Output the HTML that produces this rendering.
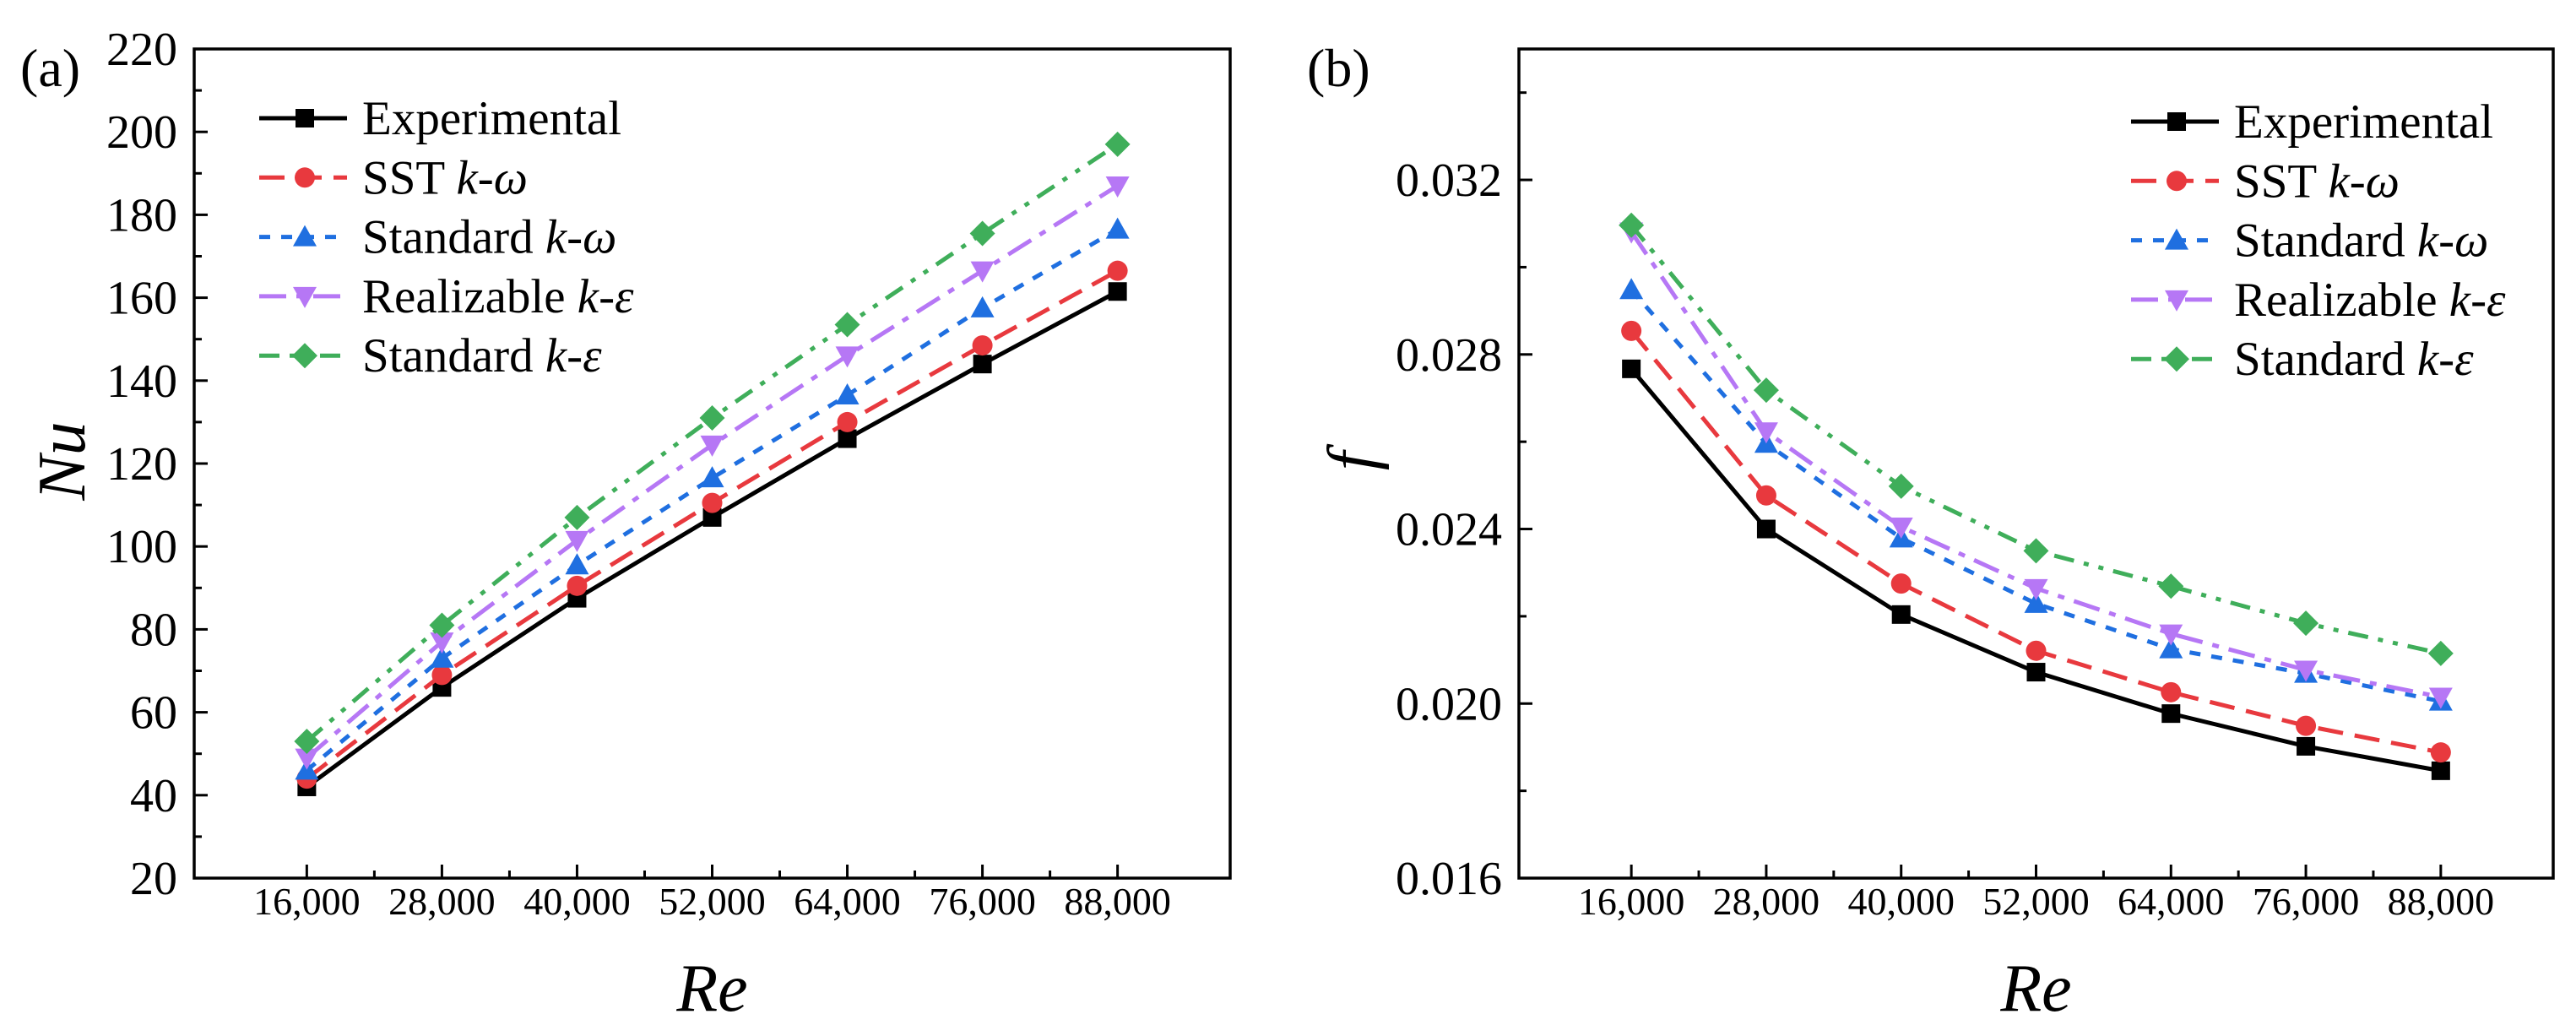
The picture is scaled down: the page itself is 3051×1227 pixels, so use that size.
<!DOCTYPE html>
<html><head><meta charset="utf-8"><style>
html,body{margin:0;padding:0;background:#fff;}
svg, svg text{font-family:"Liberation Serif","Times New Roman","DejaVu Serif",serif;}
</style></head><body>
<svg id="fig" width="3051" height="1222" viewBox="0 0 3051 1222" xmlns="http://www.w3.org/2000/svg" font-family="Liberation Serif, serif"></svg>
<script>
const categories = [16000, 28000, 40000, 52000, 64000, 76000, 88000];
const xTickLabels = ["16,000","28,000","40,000","52,000","64,000","76,000","88,000"];
const seriesNames = ["Experimental","SST","Standard k-ω","Realizable k-ε","Standard k-ε"];
const nuExp  = [42, 66, 87.5, 107, 126, 144, 161.5];
const nuSST  = [44, 69, 90.5, 110.5, 130, 148.5, 166.5];
const nuSkw  = [46, 73, 95.5, 116.5, 136.5, 157.5, 176.5];
const nuRke  = [49, 77, 101.5, 124.5, 146, 166.5, 187];
const nuSke  = [53, 81, 107, 131, 153.5, 175.5, 197];
const fExp = [0.02767, 0.0240, 0.02204, 0.02072, 0.01977, 0.01902, 0.01846];
const fSST = [0.02854, 0.02477, 0.02275, 0.02121, 0.02026, 0.01949, 0.01888];
const fSkw = [0.02948, 0.02596, 0.02379, 0.02229, 0.02125, 0.02069, 0.02005];
const fRke = [0.03081, 0.02623, 0.02405, 0.02264, 0.0216, 0.02077, 0.02015];
const fSke = [0.03096, 0.02718, 0.02498, 0.0235, 0.02269, 0.02184, 0.02115];
const nuTicks = [20,40,60,80,100,120,140,160,180,200,220];
const fTicks = [0.016,0.020,0.024,0.028,0.032];
const fTickLabels = ["0.016","0.020","0.024","0.028","0.032"];

const NS="http://www.w3.org/2000/svg";
const FONT='Liberation Serif, Times New Roman, serif';
const svg=document.getElementById('fig');
function el(tag,attrs,parent,text){const e=document.createElementNS(NS,tag);for(const k in attrs)e.setAttribute(k,attrs[k]);if(tag==='text')e.setAttribute('font-family',FONT);if(text!==undefined)e.textContent=text;(parent||svg).appendChild(e);return e;}

const styles=[
 {c:"#000000",dash:"",m:"square",n:"experimental"},
 {c:"#e8393e",dash:"30,14",m:"circle",n:"sst-k-omega"},
 {c:"#1f6fe0",dash:"13,13",m:"tri",n:"standard-k-omega"},
 {c:"#b677f5",dash:"32,12,8,12",m:"itri",n:"realizable-k-epsilon"},
 {c:"#3fae5a",dash:"24,12,6,12,6,12",m:"diamond",n:"standard-k-epsilon"}];

function marker(g,type,x,y,c){
 let e;
 if(type==="square") e=el('rect',{x:x-11,y:y-11,width:22,height:22,fill:c},g);
 else if(type==="circle") e=el('circle',{cx:x,cy:y,r:12,fill:c},g);
 else if(type==="tri") e=el('polygon',{points:`${x},${y-14} ${x+14},${y+11} ${x-14},${y+11}`,fill:c},g);
 else if(type==="itri") e=el('polygon',{points:`${x},${y+14} ${x+14},${y-11} ${x-14},${y-11}`,fill:c},g);
 else e=el('polygon',{points:`${x},${y-15} ${x+15},${y} ${x},${y+15} ${x-15},${y}`,fill:c},g);
 
 
 return e;
}

function panel(opt){
 const g=el('g',{});
 
 
 const L=opt.L,R=opt.R,T=58,B=1040;
 const xs=v=>L+(v-6000)/(98000-6000)*(R-L);
 const ys=v=>B-(v-opt.ymin)/(opt.ymax-opt.ymin)*(B-T);
 for(let i=0;i<categories.length;i++){
  const x=xs(categories[i]);
  el('line',{x1:x,y1:B,x2:x,y2:B-16,stroke:"#000","stroke-width":3},g);
  const t=el('text',{x:x,y:1083,"font-size":46,"text-anchor":"middle"},g,xTickLabels[i]);
  
  
  if(i<categories.length-1){const xm=xs(categories[i]+6000);el('line',{x1:xm,y1:B,x2:xm,y2:B-9,stroke:"#000","stroke-width":3},g);}
 }
 for(let i=0;i<opt.ticks.length;i++){
  const y=ys(opt.ticks[i]);
  el('line',{x1:L,y1:y,x2:L+16,y2:y,stroke:"#000","stroke-width":3},g);
  const t=el('text',{x:L-20,y:y+19,"font-size":56,"text-anchor":"end"},g,opt.labels[i]);
  
  
 }
 for(let v=opt.ymin+opt.minor;v<opt.ymax-1e-9;v+=opt.step){const y=ys(v);el('line',{x1:L,y1:y,x2:L+9,y2:y,stroke:"#000","stroke-width":3},g);}
 const frame=el('rect',{x:L,y:T,width:R-L,height:B-T,fill:"none",stroke:"#000","stroke-width":3.5},g);
 
 
 opt.series.forEach((vals,si)=>{
  const s=styles[si];
  const sg=el('g',{},g);
  
  
  const pts=vals.map((v,i)=>xs(categories[i])+","+ys(v)).join(" ");
  const pl=el('polyline',{points:pts,fill:"none",stroke:s.c,"stroke-width":5,"stroke-dasharray":s.dash},sg);
  
  
  vals.forEach((v,i)=>marker(sg,s.m,xs(categories[i]),ys(v),s.c));
 });
 const lg=el('g',{},g);
 
 
 const lab=[["Experimental",""],["SST ","k-ω"],["Standard ","k-ω"],["Realizable ","k-ε"],["Standard ","k-ε"]];
 styles.forEach((s,i)=>{
  const y=opt.legY+i*70.3;
  const eg=el('g',{},lg);
  
  
  el('line',{x1:opt.legX,y1:y,x2:opt.legX+104,y2:y,stroke:s.c,"stroke-width":5,"stroke-dasharray":s.dash},eg);
  marker(eg,s.m,opt.legX+54,y,s.c);
  const t=el('text',{x:opt.legX+122,y:y+19,"font-size":57},eg);
  el('tspan',{},t,lab[i][0]);
  if(lab[i][1]) el('tspan',{"font-style":"italic"},t,lab[i][1]);
 });
 const xt=el('text',{x:(L+R)/2,y:1197,"font-size":80,"font-style":"italic","text-anchor":"middle"},g,"Re");
 
 
 const yt=el('text',{x:0,y:0,"font-size":80,"font-style":"italic","text-anchor":"middle",transform:`translate(${opt.ytX},546) rotate(-90)`},g,opt.ytitle);
 
 
 const pl=el('text',{x:opt.plX,y:102,"font-size":64},g,opt.plabel);
 
 
}

panel({name:"panel-a-nusselt",L:230,R:1457,ymin:20,ymax:220,ticks:nuTicks,labels:nuTicks.map(String),minor:10,step:20,
 series:[nuExp,nuSST,nuSkw,nuRke,nuSke],legX:307,legY:140,ytitle:"Nu",ytX:100,plabel:"(a)",plX:24});
panel({name:"panel-b-friction",L:1799,R:3024,ymin:0.016,ymax:0.035,ticks:fTicks,labels:fTickLabels,minor:0.002,step:0.004,
 series:[fExp,fSST,fSkw,fRke,fSke],legX:2524,legY:144,ytitle:"f",ytX:1628,plabel:"(b)",plX:1548});
</script>
</body></html>
